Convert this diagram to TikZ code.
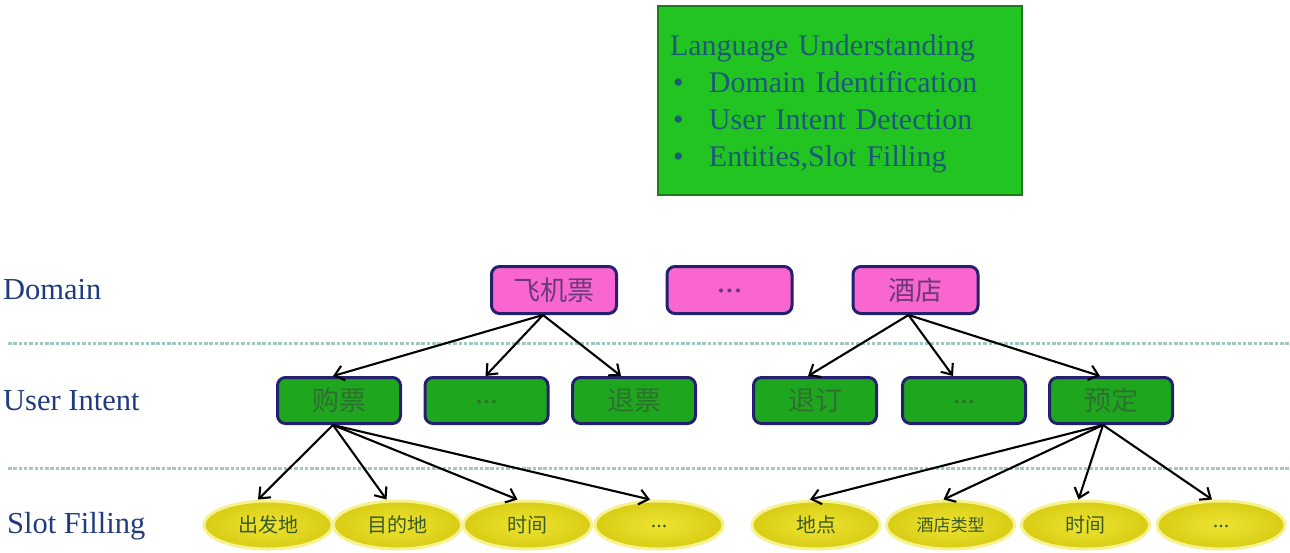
\documentclass[tikz,border=0pt]{standalone}
\usepackage{fontspec}
\setmainfont{Liberation Serif}
\newfontfamily\cjk{Noto Sans CJK SC}
\usetikzlibrary{arrows.meta,shapes.geometric}
\definecolor{pinkfill}{HTML}{FA66CF}
\definecolor{navy}{HTML}{23206E}
\definecolor{intentfill}{HTML}{1FA61F}
\definecolor{topfill}{HTML}{22C422}
\definecolor{topborder}{HTML}{1D7A1D}
\definecolor{toptext}{HTML}{1C5A78}
\definecolor{labeltext}{HTML}{203C7E}
\definecolor{dotline}{HTML}{A2C8C4}
\definecolor{slotin}{HTML}{EEE432}
\definecolor{slotout}{HTML}{D8CC14}
\definecolor{slotglow}{HTML}{F6F290}
\definecolor{slottext}{HTML}{3C5A28}
\definecolor{pinktext}{HTML}{6A3A78}
\definecolor{greentext}{HTML}{2F6F2F}
\newcommand{\mydots}[2]{\raisebox{#2}{\rmfamily\fontsize{#1}{#1}\selectfont ...}}
\tikzset{
  domainbox/.style={draw=navy, line width=3pt, fill=pinkfill, rounded corners=8pt,
    minimum width=125pt, minimum height=47pt, inner sep=0pt, text=pinktext,
    font=\cjk\fontsize{27}{27}\selectfont},
  intentbox/.style={draw=navy, line width=3pt, fill=intentfill, rounded corners=8pt,
    minimum width=123pt, minimum height=46pt, inner sep=0pt, text=greentext,
    font=\cjk\fontsize{27}{27}\selectfont},
  slot/.style={ellipse, draw=slotglow, line width=3pt, inner color=slotin, outer color=slotout,
    minimum width=128pt, minimum height=48pt, inner sep=0pt, text=slottext,
    font=\cjk\fontsize{20}{20}\selectfont},
  rowlabel/.style={anchor=west, inner sep=0pt, text=labeltext, font=\fontsize{30.5}{30.5}\selectfont},
  sep/.style={draw=dotline, line width=3pt, dash pattern=on 3.5pt off 1.8pt},
  link/.style={draw=black, line width=2.1pt, -{Straight Barb[length=9pt,width=15pt]}},
  topbox/.style={draw=topborder, line width=2.5pt, fill=topfill, minimum height=189pt,
    minimum width=364pt, inner sep=0pt},
  toptxt/.style={inner sep=0pt, text width=340pt, align=left, text=toptext,
    font=\fontsize{30}{37}\selectfont},
}
\begin{document}
\begin{tikzpicture}[x=1pt,y=-1pt]
\useasboundingbox (0,0) rectangle (1290,552);
% top box
\node[topbox] (lu) at (840,100.5) {};
\node[toptxt] (lut) at (840,103.5)
  {Language Understanding\\
   \makebox[39pt][l]{\hspace*{3pt}\textbullet}Domain Identification\\
   \makebox[39pt][l]{\hspace*{3pt}\textbullet}User Intent Detection\\
   \makebox[39pt][l]{\hspace*{3pt}\textbullet}Entities,Slot Filling};
% row labels
\node[rowlabel] (ld) at (3,290) {Domain};
\node[rowlabel] (li) at (3,401) {User Intent};
\node[rowlabel] (ls) at (7,526) {Slot Filling};
% separators
\coordinate (sa1) at (8,343); \coordinate (sa2) at (1290,343);
\coordinate (sb1) at (8,468); \coordinate (sb2) at (1290,468);
\draw[sep] (sa1) -- (sa2);
\draw[sep] (sb1) -- (sb2);
% domains
\node[domainbox] (d1) at (554,290) {飞机票};
\node[domainbox] (d2) at (729.5,290) {\mydots{34}{-6pt}};
\node[domainbox] (d3) at (915.5,290) {酒店};
% intents
\node[intentbox] (i1) at (339,400.5) {购票};
\node[intentbox] (i2) at (486.5,400.5) {\mydots{30}{-6pt}};
\node[intentbox] (i3) at (634,400.5) {退票};
\node[intentbox] (i4) at (815,400.5) {退订};
\node[intentbox] (i5) at (964,400.5) {\mydots{30}{-6pt}};
\node[intentbox] (i6) at (1111,400.5) {预定};
% slots
\node[slot] (s1) at (268,525) {出发地};
\node[slot] (s2) at (397.5,525) {目的地};
\node[slot] (s3) at (527.5,525) {时间};
\node[slot] (s4) at (659,525) {\mydots{22}{-5pt}};
\node[slot] (s5) at (816,525) {地点};
\node[slot] (s6) at (950.5,525) {\fontsize{17}{17}\selectfont 酒店类型};
\node[slot] (s7) at (1085.5,525) {时间};
\node[slot] (s8) at (1221,525) {\mydots{22}{-5pt}};
% links domain -> intent
\draw[link] ([xshift=-11pt]d1.south) -- ([xshift=-6pt]i1.north);
\draw[link] ([xshift=-11pt]d1.south) -- ([xshift=-1pt]i2.north);
\draw[link] ([xshift=-11pt]d1.south) -- ([xshift=-13pt]i3.north);
\draw[link] ([xshift=-7pt]d3.south) -- ([xshift=-7pt]i4.north);
\draw[link] ([xshift=-7pt]d3.south) -- ([xshift=-11pt]i5.north);
\draw[link] ([xshift=-7pt]d3.south) -- ([xshift=-11pt]i6.north);
% links intent -> slot
\draw[link] ([xshift=-6pt]i1.south) -- ([xshift=-10pt]s1.north);
\draw[link] ([xshift=-6pt]i1.south) -- ([xshift=-11pt]s2.north);
\draw[link] ([xshift=-6pt]i1.south) -- ([xshift=-10pt]s3.north);
\draw[link] ([xshift=-6pt]i1.south) -- ([xshift=-9pt]s4.north);
\draw[link] ([xshift=-8pt]i6.south) -- ([xshift=-6pt]s5.north);
\draw[link] ([xshift=-8pt]i6.south) -- ([xshift=-7pt]s6.north);
\draw[link] ([xshift=-8pt]i6.south) -- ([xshift=-7pt]s7.north);
\draw[link] ([xshift=-8pt]i6.south) -- ([xshift=-9pt]s8.north);
\end{tikzpicture}
\end{document}
